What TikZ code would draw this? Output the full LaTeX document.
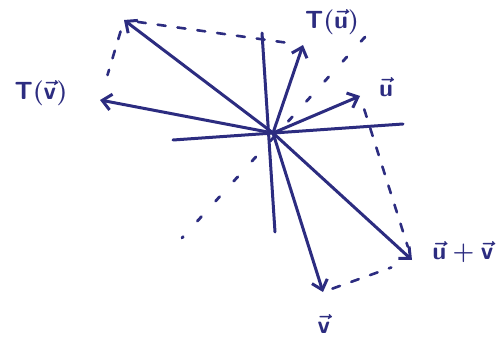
\documentclass[tikz,border=0pt]{standalone}
\usetikzlibrary{arrows.meta}
\definecolor{ink}{RGB}{44,44,128}
\begin{document}
\begin{tikzpicture}[x=1pt,y=-1pt,line cap=round,line join=round,
  vec/.style={draw=ink,line width=3pt,-{Straight Barb[length=9pt,width=16pt]}},
  axisline/.style={draw=ink,line width=3pt},
  guide/.style={draw=ink,line width=2.6pt,dash pattern=on 8pt off 12pt},
  dotline/.style={draw=ink,line width=2.8pt,dash pattern=on 6pt off 21pt},
  lbl/.style={text=ink,font=\fontsize{27}{30}\selectfont\boldmath,inner sep=0pt}]
\useasboundingbox (0,0) rectangle (503,345);
% points
\coordinate (O) at (273,133);
\coordinate (Tu) at (303,45);
\coordinate (u) at (360,96);
\coordinate (v) at (323,292);
\coordinate (uv) at (412,260);
\coordinate (Tv) at (100,100);
\coordinate (Tuv) at (124,20);
\coordinate (ytop) at (262,33);
\coordinate (ybot) at (275,232);
\coordinate (xleft) at (173,140);
\coordinate (xright) at (403,124);
\coordinate (d1) at (365,37);
\coordinate (d2) at (182,238);
% axes
\draw[axisline] (ytop) -- (ybot);
\draw[axisline] (xleft) -- (xright);
% dotted diagonal
\draw[dotline] (d1) -- (d2);
% dashed guides
\draw[guide,shorten <=14pt,shorten >=14pt] (Tuv) -- (Tu);
\draw[guide,shorten <=12pt,shorten >=26pt] (Tuv) -- (Tv);
\draw[guide,shorten <=14pt,shorten >=14pt] (u) -- (uv);
\draw[guide,shorten <=10pt,shorten >=22pt] (v) -- (uv);
% vectors
\draw[vec] (O) -- (Tu);
\draw[vec] (O) -- (u);
\draw[vec] (O) -- (v);
\draw[vec] (O) -- (uv);
\draw[vec] (O) -- (Tv);
\draw[vec] (O) -- (Tuv);
% labels
\node[lbl] (lTv) at (41,93) {$\mathsf{T}(\vec{\mathsf{v}})$};
\node[lbl] (lTu) at (332,22) {$\mathsf{T}(\vec{\mathsf{u}})$};
\node[lbl] (lu) at (386,87) {$\vec{\mathsf{u}}$};
\node[lbl] (luv) at (463,252) {$\vec{\mathsf{u}}+\vec{\mathsf{v}}$};
\node[lbl] (lv) at (324,324) {$\vec{\mathsf{v}}$};
\end{tikzpicture}
\end{document}
